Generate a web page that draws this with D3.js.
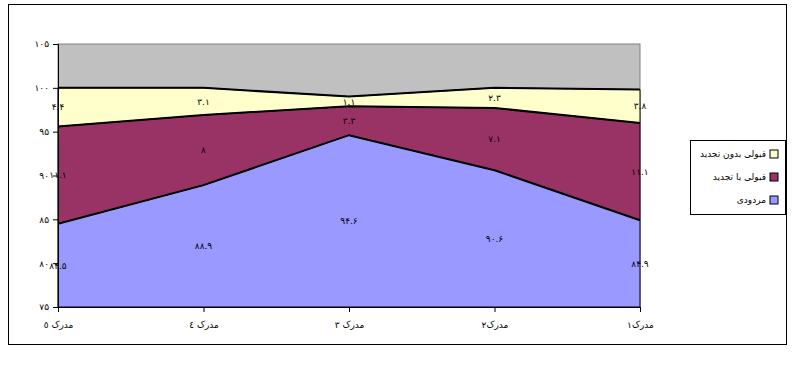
<!DOCTYPE html>
<html><head><meta charset="utf-8">
<script src="https://cdn.jsdelivr.net/npm/d3@7"></script>
<style>body{margin:0;background:#fff}svg{display:block}</style>
</head><body>
<svg id="c" width="795" height="368"></svg>
<script>
const categories = ["مدرک ٥", "مدرک ٤", "مدرک ۳", "مدرک۲", "مدرک۱"];
const failed = [84.5, 88.9, 94.6, 90.6, 84.9];        // مردودی
const passedRetake = [11.1, 8, 3.3, 7.1, 11.1];     // قبولی با تجدید
const passedClean = [4.4, 3.1, 1.1, 2.3, 3.8];      // قبولی بدون تجدید
const seriesNames = ["مردودی", "قبولی با تجدید", "قبولی بدون تجدید"];
const seriesColors = ["#9999FF", "#993366", "#FFFFCC"];
const yTicks = [75, 80, 85, 90, 95, 100, 105];

const toFa = s => String(s).replace(/[0-9]/g, d => "۰۱۲۳۴۵۶۷۸۹"[+d]);
const svg = d3.select("#c");
const font = "'DejaVu Sans', Arial, sans-serif";

// outer frame
svg.append("rect").attr("x", 8.5).attr("y", 4.5).attr("width", 778).attr("height", 340)
  .attr("fill", "#fff").attr("stroke", "#000").attr("stroke-width", 1);

const L = 58, R = 640, T = 44, B = 307;
const x = d3.scalePoint().domain(categories).range([L, R]);
const y = d3.scaleLinear().domain([75, 105]).range([B, T]);

// plot background
svg.append("rect").attr("x", L).attr("y", T).attr("width", R - L).attr("height", B - T)
  .attr("fill", "#C0C0C0").attr("stroke", "#808080").attr("stroke-width", 1);

const rows = categories.map((c, i) => ({cat: c, s0: failed[i], s1: passedRetake[i], s2: passedClean[i]}));
const stack = d3.stack().keys(["s0", "s1", "s2"]);
const stacked = stack(rows);

const area = d3.area()
  .x(d => x(d.data.cat))
  .y0(d => y(Math.max(75, d[0])))
  .y1(d => y(d[1]));
const topLine = d3.line().x(d => x(d.data.cat)).y(d => y(d[1]));

const g = svg.append("g");
stacked.forEach((s, k) => {
  g.append("path").attr("d", area(s)).attr("fill", seriesColors[k])
    .attr("stroke", "#000").attr("stroke-width", 1);
});
stacked.forEach((s, k) => {
  g.append("path").attr("d", topLine(s)).attr("fill", "none")
    .attr("stroke", "#000").attr("stroke-width", 2);
});

// data labels
stacked.forEach((s, k) => {
  s.forEach((d, i) => {
    const v = d[1] - d[0];
    const mid = (Math.max(75, d[0]) + d[1]) / 2;
    svg.append("text").attr("x", x(d.data.cat)).attr("y", y(mid)).attr("dy", "0.35em")
      .attr("text-anchor", "middle").attr("font-family", font).attr("font-size", 9)
      .attr("fill", "#000").text(toFa(v.toFixed(1).replace(/\.0$/, "")));
  });
});

// y axis
const yAxis = svg.append("g").attr("transform", `translate(${L},0)`)
  .call(d3.axisLeft(y).tickValues(yTicks).tickSize(5).tickPadding(4).tickFormat(d => toFa(d)));
yAxis.select(".domain").attr("stroke", "#000");
yAxis.selectAll("text").attr("font-family", font).attr("font-size", 9).attr("fill", "#000");

// x axis
const xAxis = svg.append("g").attr("transform", `translate(0,${B})`)
  .call(d3.axisBottom(x).tickSize(5).tickPadding(10));
xAxis.select(".domain").attr("stroke", "#000");
xAxis.selectAll("text").attr("font-family", font).attr("font-size", 9).attr("fill", "#000");

// legend
const lg = svg.append("g");
lg.append("rect").attr("x", 690.5).attr("y", 140.5).attr("width", 95).attr("height", 74)
  .attr("fill", "#fff").attr("stroke", "#000");
const legendItems = [2, 1, 0];
legendItems.forEach((k, j) => {
  const yy = 154 + j * 23;
  lg.append("rect").attr("x", 770).attr("y", yy - 4).attr("width", 8).attr("height", 8)
    .attr("fill", seriesColors[k]).attr("stroke", "#000");
  lg.append("text").attr("x", 766).attr("y", yy).attr("dy", "0.35em")
    .attr("text-anchor", "end").attr("font-family", font).attr("font-size", 9)
    .attr("fill", "#000").text(seriesNames[k]);
});
</script>
</body></html>
